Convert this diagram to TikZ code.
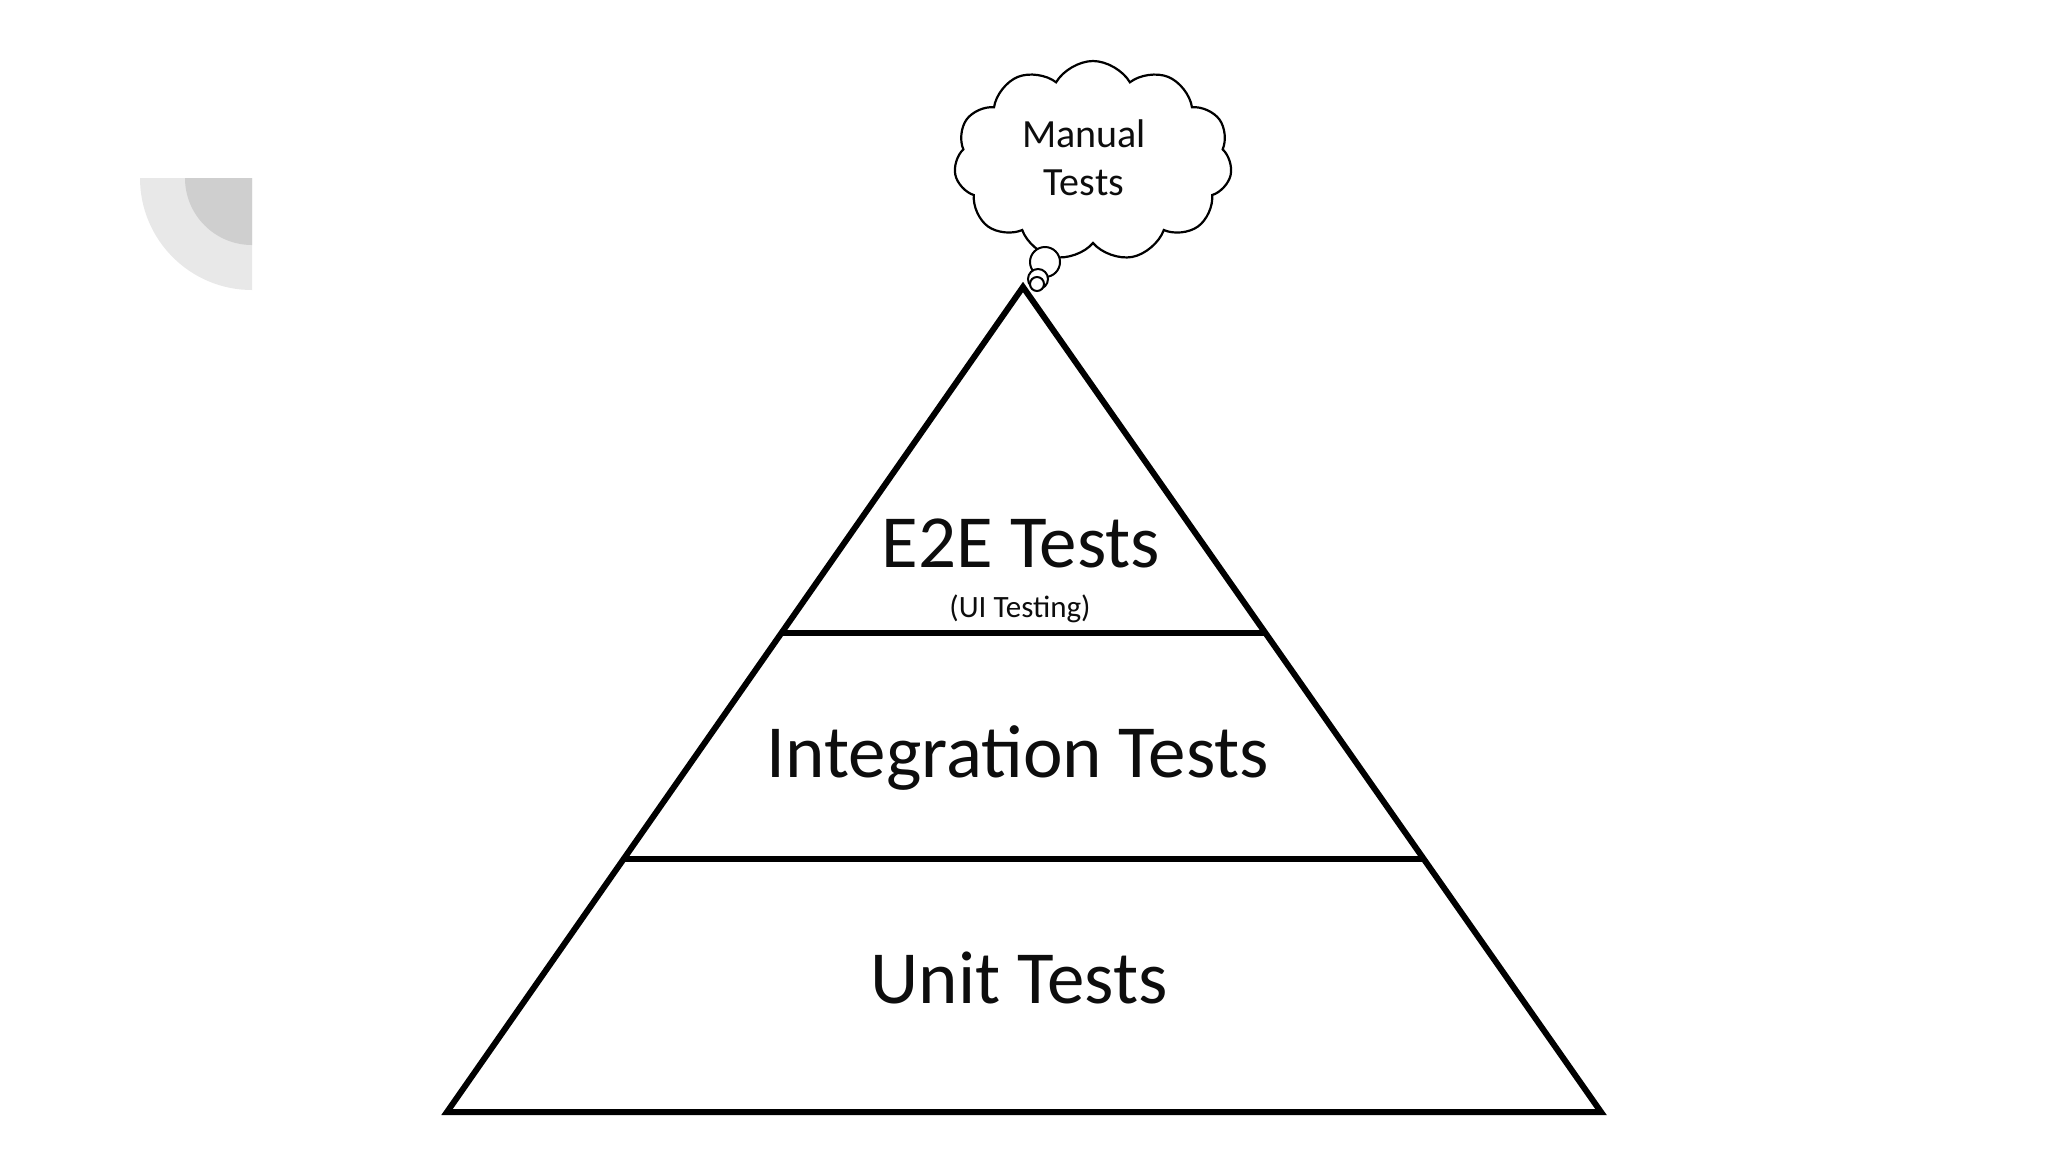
\documentclass[tikz,border=0pt]{standalone}
\usepackage{fontspec}
\setmainfont{Carlito}
\usetikzlibrary{shapes.symbols,calc}
\definecolor{ink}{HTML}{0D0D0D}
\definecolor{decoA}{HTML}{E8E8E8}
\definecolor{decoB}{HTML}{CFCFCF}
\tikzset{
  edge/.style={draw=black,line width=6pt},
  bigtxt/.style={anchor=base,text=ink,font=\fontsize{75}{90}\selectfont,inner sep=0pt},
  smalltxt/.style={anchor=base,text=ink,font=\fontsize{31}{37}\selectfont,inner sep=0pt},
  cloudtxt/.style={text=ink,font=\fontsize{40}{48}\selectfont,align=center,inner sep=0pt},
  bubble/.style={draw=black,line width=2pt,fill=white}
}
\begin{document}
\begin{tikzpicture}[x=1pt,y=-1pt]
\useasboundingbox (0,0) rectangle (2048,1152);
\fill[white] (0,0) rectangle (2048,1152);
% decoration top-left
\fill[decoA] (252,178) -- (140,178) arc[start angle=180,end angle=90,radius=112] -- cycle;
\fill[decoB] (252,178) -- (185,178) arc[start angle=180,end angle=90,radius=67] -- cycle;
% pyramid
\coordinate (apex) at (1023,287);
\coordinate (bl) at (447,1112);
\coordinate (br) at (1601,1112);
\coordinate (l1) at ($(apex)!0.4194!(bl)$);
\coordinate (r1) at ($(apex)!0.4194!(br)$);
\coordinate (l2) at ($(apex)!0.6933!(bl)$);
\coordinate (r2) at ($(apex)!0.6933!(br)$);
\draw[edge] (apex) -- (bl) -- (br) -- cycle;
\draw[edge] (l1) -- (r1);
\draw[edge] (l2) -- (r2);
\node[bigtxt] (e2e) at (1021,567) {E2E Tests};
\node[smalltxt] (ui) at (1020,617) {(UI Testing)};
\node[bigtxt] (integ) at (1018,777) {Integration Tests};
\node[bigtxt] (unit) at (1019,1003) {Unit Tests};
% cloud
\node[cloud,cloud puffs=11,cloud puff arc=120,aspect=1.4,draw=black,line width=2.2pt,
      minimum width=278pt,minimum height=200pt,inner sep=0pt] (cl) at (1093,161) {};
\draw[bubble] (1045,262) circle[radius=15];
\draw[bubble] (1038,279) circle[radius=10];
\draw[bubble] (1037,284) circle[radius=7];
\node[cloudtxt] (man) at (1084,158) {Manual\\Tests};
\end{tikzpicture}
\end{document}
